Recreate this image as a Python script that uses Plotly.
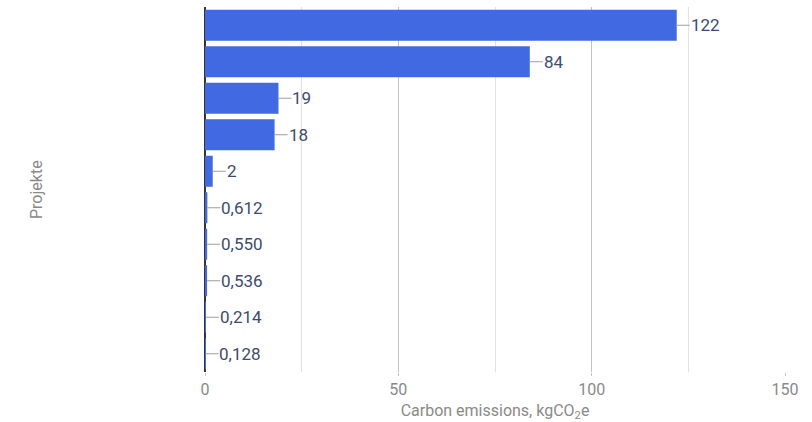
import plotly.graph_objects as go

projects = ["Projekt A", "Projekt B", "Projekt C", "Projekt D", "Projekt E",
            "Projekt F", "Projekt G", "Projekt H", "Projekt I", "Projekt J"]
emissions = [122, 84, 19, 18, 2, 0.612, 0.550, 0.536, 0.214, 0.128]
value_labels = ["122", "84", "19", "18", "2", "0,612", "0,550", "0,536", "0,214", "0,128"]
x_ticks = [0, 50, 100, 150]

fig = go.Figure(go.Bar(
    x=emissions, y=projects, orientation="h",
    marker=dict(color="#4169e1", line=dict(width=0)),
    hoverinfo="skip",
))

for p, v, lab in zip(projects, emissions, value_labels):
    fig.add_annotation(
        x=v, y=p, xref="x", yref="y", text=lab,
        showarrow=True, ax=13, ay=0, axref="pixel", ayref="pixel",
        arrowhead=0, arrowwidth=1, arrowcolor="#9e9e9e", standoff=0,
        xanchor="left", borderpad=0,
        font=dict(family="Roboto", size=17, color="#3d4b6e"),
    )

fig.add_annotation(
    text="Projekte", xref="paper", yref="paper", x=0, y=0.5,
    xshift=-180, textangle=-90, showarrow=False,
    font=dict(family="Roboto", size=16, color="#8a8a8a"),
)

fig.update_layout(
    width=812, height=422,
    margin=dict(l=205, r=27, t=7, b=50),
    paper_bgcolor="white", plot_bgcolor="white",
    bargap=0.15, showlegend=False,
    font=dict(family="Roboto", size=16, color="#8a8a8a"),
    xaxis=dict(
        range=[0, 150], tickvals=x_ticks, ticktext=[str(t) for t in x_ticks],
        ticks="outside", ticklen=3, tickcolor="#c4c4c4",
        showgrid=True, gridcolor="#c4c4c4", gridwidth=1,
        minor=dict(dtick=25, tick0=0, showgrid=True, gridcolor="#e2e2e2"),
        zeroline=True, zerolinecolor="#333333", zerolinewidth=1.5,
        tickfont=dict(family="Roboto", size=16, color="#8a8a8a"),
        title=dict(text="Carbon emissions, kgCO<sub>2</sub>e", standoff=6,
                   font=dict(family="Roboto", size=16, color="#8a8a8a")),
        fixedrange=True,
    ),
    yaxis=dict(
        autorange="reversed", showticklabels=False, showgrid=False,
        zeroline=False, fixedrange=True,
    ),
)

fig.write_html("out.html")
